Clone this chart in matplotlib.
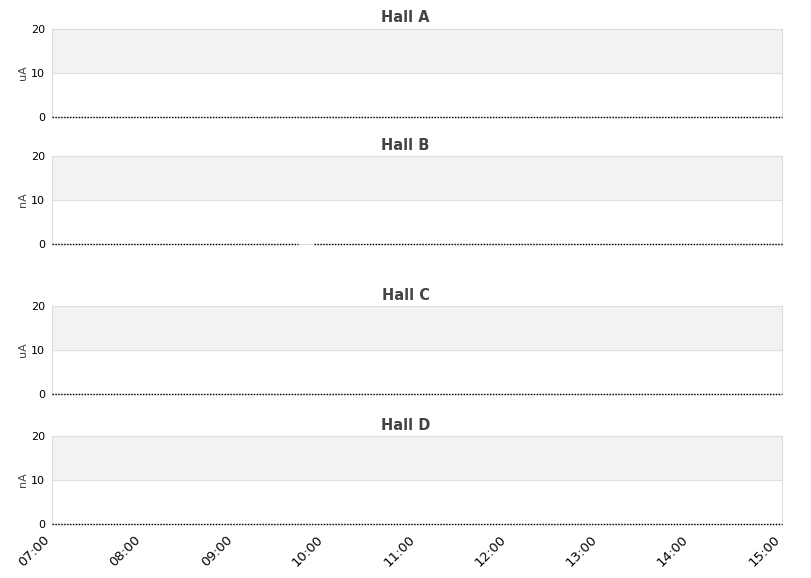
import matplotlib
matplotlib.use('Agg')
import matplotlib.pyplot as plt
import matplotlib.dates as mdates
import matplotlib.transforms as mtransforms
import numpy as np
import pandas as pd

halls = ['Hall A', 'Hall B', 'Hall C', 'Hall D']
units = ['uA', 'nA', 'uA', 'nA']
start_time = '2024-01-01 07:00'
end_time = '2024-01-01 15:00'
level = [0.0, 0.0, 0.0, 0.0]
# missing readings per hall (start, end)
gaps = {'Hall B': [('2024-01-01 09:43', '2024-01-01 09:51')]}
y_ticks = [0, 10, 20]

# axes rectangles in pixels: top, bottom
panel_px = [(29, 117), (156, 244), (306, 394), (436, 524)]


def make_series(hall, value):
    times = pd.date_range(start_time, end_time, freq='1min')
    vals = pd.Series(value, index=times, dtype=float)
    for g0, g1 in gaps.get(hall, []):
        vals[g0:g1] = np.nan
    return vals


def main():
    W, H = 811, 578
    fig = plt.figure(figsize=(W / 100, H / 100), dpi=100)
    for i, hall in enumerate(halls):
        top, bot = panel_px[i]
        ax = fig.add_axes([52 / W, 1 - bot / H, 730 / W, (bot - top) / H])
        s = make_series(hall, level[i])
        ax.axhspan(10, 20, color='#f2f2f2', zorder=0)
        ax.axhline(10, color='#e0e0e0', lw=0.8, zorder=1)
        ax.plot(s.index, s.values, color='black', lw=1.0, linestyle=(0, (1.0, 1.1)), zorder=3, clip_on=False)
        ax.set_xlim(pd.Timestamp(start_time), pd.Timestamp(end_time))
        ax.set_ylim(0, 20)
        ax.set_yticks(y_ticks)
        ax.tick_params(axis='y', length=0, labelsize=8, pad=5)
        ax.tick_params(axis='x', length=0)
        for sp in ax.spines.values():
            sp.set_color('#dddddd')
            sp.set_linewidth(0.8)
        # titles sit centred on the figure, not the axes
        ax.text(0.5, 1 - (top - 11) / H, hall, transform=fig.transFigure, ha='center', va='center',
                fontsize=10.5, fontweight='bold', color='#444444')
        ax.set_ylabel(units[i], fontsize=8, color='#444444', labelpad=2)
        ax.xaxis.set_major_locator(mdates.HourLocator())
        ax.xaxis.set_major_formatter(mdates.DateFormatter('%H:%M'))
        if i < len(halls) - 1:
            ax.set_xticklabels([])
        else:
            shift = mtransforms.ScaledTranslation(-9 / 100, -4 / 100, fig.dpi_scale_trans)
            for lbl in ax.get_xticklabels():
                lbl.set_rotation(45)
                lbl.set_ha('right')
                lbl.set_rotation_mode('anchor')
                lbl.set_fontsize(9.5)
                lbl.set_transform(lbl.get_transform() + shift)
    fig.savefig('out.png', dpi=100)


if __name__ == '__main__':
    main()
